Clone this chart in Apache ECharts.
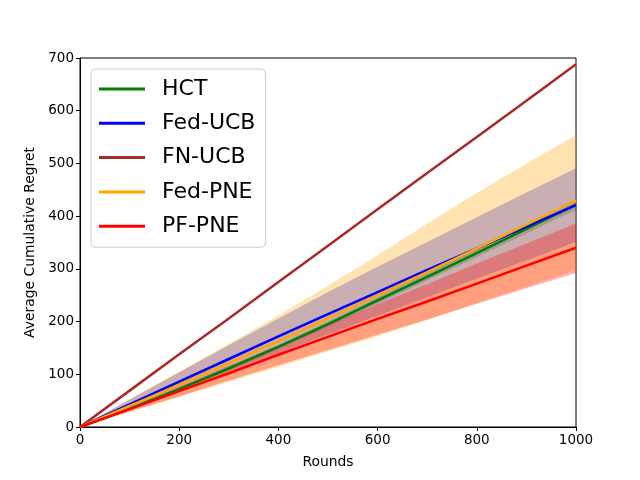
<!DOCTYPE html>
<html>
  <head>
    <meta charset="utf-8" />
    <title>Average Cumulative Regret</title>
    <script src="https://cdn.jsdelivr.net/npm/echarts@6/dist/echarts.min.js"></script>
    <style>
      body { margin: 0; background: #fff; }
      #main { width: 640px; height: 480px; }
    </style>
  </head>
  <body>
    <div id="main"></div>
  </body>

  <script type="text/javascript">
    // rounds sampled every 100
    var rounds = [0, 100, 200, 300, 400, 500, 600, 700, 800, 900, 1000];

    // mean curves
    var hct = [0, 35, 72, 111, 152, 195, 240, 285, 330, 376, 422];
    var fedUcb = [0, 43, 86, 129, 172, 214, 256, 298, 339, 380, 421];
    var fnUcb = [0, 69, 138, 206, 275, 344, 413, 482, 550, 619, 688];
    var fedPne = [0, 40, 80, 121, 163, 206, 250, 294, 339, 384, 430];
    var pfPne = [0, 34, 68, 102, 137, 171, 205, 238, 272, 306, 340];

    // shaded bands (lower / upper)
    var hctLow = [0, 34, 70, 108, 148, 190, 234, 278, 322, 367, 412];
    var hctHigh = [0, 36, 74, 114, 156, 200, 246, 292, 338, 385, 432];
    var fedUcbLow = [0, 35, 70, 105, 140, 176, 211, 246, 281, 316, 351];
    var fedUcbHigh = [0, 52, 104, 155, 206, 256, 304, 351, 398, 445, 491];
    var fedPneLow = [0, 29, 57, 86, 114, 143, 172, 203, 235, 266, 298];
    var fedPneHigh = [0, 52, 105, 158, 212, 268, 326, 386, 444, 500, 554];
    var pfPneLow = [0, 29, 58, 88, 117, 146, 175, 204, 234, 263, 292];
    var pfPneHigh = [0, 38, 77, 116, 155, 194, 233, 271, 310, 348, 386];

    var chart = echarts.init(document.getElementById("main"));

    function pairs(ys) {
      return rounds.map(function (x, i) {
        return [x, ys[i]];
      });
    }

    // filled band between low and high, drawn as one polygon
    function band(key, low, high, color) {
      return {
        name: key + "_band",
        type: "custom",
        silent: true,
        z: 1,
        data: [[0, 0]],
        renderItem: function (params, api) {
          var pts = [];
          for (var i = 0; i < rounds.length; i++) {
            pts.push(api.coord([rounds[i], high[i]]));
          }
          for (var j = rounds.length - 1; j >= 0; j--) {
            pts.push(api.coord([rounds[j], low[j]]));
          }
          return {
            type: "polygon",
            shape: { points: pts },
            style: { fill: color, opacity: 0.3 },
          };
        },
      };
    }

    function curve(name, ys, color) {
      return {
        name: name,
        type: "line",
        data: pairs(ys),
        symbol: "none",
        lineStyle: { color: color, width: 2.5 },
        itemStyle: { color: color },
        z: 3,
      };
    }

    var series = [
      band("hct", hctLow, hctHigh, "#008000"),
      band("fedUcb", fedUcbLow, fedUcbHigh, "#0000ff"),
      band("fedPne", fedPneLow, fedPneHigh, "#ffa500"),
      band("pfPne", pfPneLow, pfPneHigh, "#ff0000"),
      curve("HCT", hct, "#008000"),
      curve("Fed-UCB", fedUcb, "#0000ff"),
      curve("FN-UCB", fnUcb, "#a52a2a"),
      curve("Fed-PNE", fedPne, "#ffa500"),
      curve("PF-PNE", pfPne, "#ff0000"),
    ];

    var option = {
      animation: false,
      textStyle: { fontFamily: "DejaVu Sans" },
      grid: {
        left: 80,
        right: 64,
        top: 58,
        bottom: 53,
        show: true,
        borderColor: "#000",
        borderWidth: 1,
      },
      legend: {
        data: ["HCT", "Fed-UCB", "FN-UCB", "Fed-PNE", "PF-PNE"],
        orient: "vertical",
        left: 91,
        top: 69,
        padding: [8, 10, 9, 8],
        itemGap: 10.3,
        itemWidth: 46,
        itemHeight: 3,
        icon: "rect",
        backgroundColor: "rgba(255,255,255,0.8)",
        borderColor: "#cccccc",
        borderWidth: 1,
        borderRadius: 4,
        textStyle: {
          fontFamily: "DejaVu Sans",
          fontSize: 22,
          lineHeight: 24,
          color: "#000",
          padding: [0, 0, 0, 12],
        },
      },
      xAxis: {
        type: "value",
        min: 0,
        max: 1000,
        interval: 200,
        name: "Rounds",
        nameLocation: "middle",
        nameGap: 28,
        nameTextStyle: { color: "#000", fontSize: 13.9 },
        axisLine: { show: true, lineStyle: { color: "#000" } },
        axisTick: { show: true, length: 4, lineStyle: { color: "#000" } },
        axisLabel: {
          color: "#000",
          fontSize: 13.5,
          margin: 6,
          formatter: function (v) {
            return String(v);
          },
        },
        splitLine: { show: false },
      },
      yAxis: {
        type: "value",
        min: 0,
        max: 700,
        interval: 100,
        name: "Average Cumulative Regret",
        nameLocation: "middle",
        nameGap: 43,
        nameTextStyle: { color: "#000", fontSize: 13.9 },
        axisLine: { show: true, lineStyle: { color: "#000" } },
        axisTick: { show: true, length: 4, lineStyle: { color: "#000" } },
        axisLabel: { color: "#000", fontSize: 13.5, margin: 6 },
        splitLine: { show: false },
      },
      series: series,
    };

    chart.setOption(option);
  </script>
</html>
